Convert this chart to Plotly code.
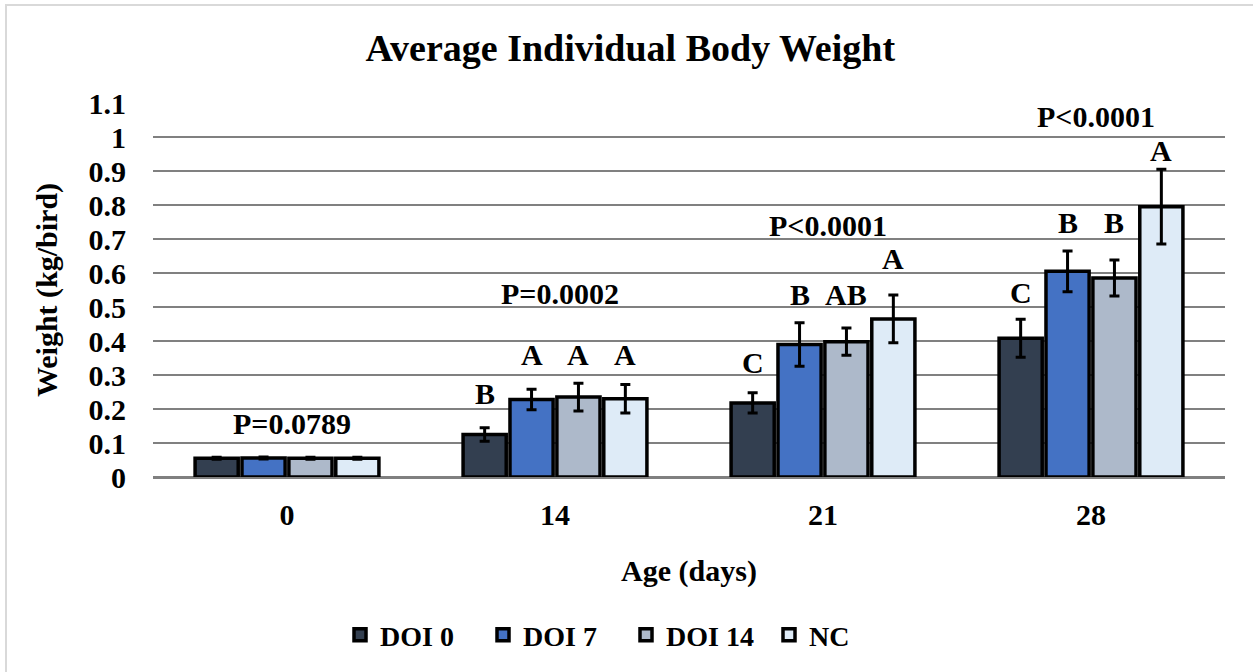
import plotly.graph_objects as go

ages = ["0", "14", "21", "28"]
series_names = ["DOI 0", "DOI 7", "DOI 14", "NC"]
colors = ["#333F50", "#4472C4", "#ADB9CA", "#DEEBF7"]

doi0 = [0.055, 0.125, 0.218, 0.408]
doi7 = [0.056, 0.228, 0.390, 0.605]
doi14 = [0.055, 0.235, 0.398, 0.585]
nc = [0.055, 0.230, 0.465, 0.795]

doi0_err = [0.003, 0.020, 0.030, 0.056]
doi7_err = [0.003, 0.030, 0.064, 0.060]
doi14_err = [0.003, 0.041, 0.040, 0.053]
nc_err = [0.003, 0.042, 0.070, 0.110]

# significance letters per age (one per series) and their label heights
letters = [
    ["", "", "", ""],
    ["B", "A", "A", "A"],
    ["C", "B", "AB", "A"],
    ["C", "B", "B", "A"],
]
letter_y = [
    [0, 0, 0, 0],
    [0.247, 0.359, 0.359, 0.359],
    [0.338, 0.538, 0.538, 0.644],
    [0.544, 0.750, 0.750, 0.959],
]
p_labels = ["P=0.0789", "P=0.0002", "P<0.0001", "P<0.0001"]
p_y = [0.156, 0.541, 0.741, 1.059]

values = [doi0, doi7, doi14, nc]
errors = [doi0_err, doi7_err, doi14_err, nc_err]

FONT = "Liberation Serif"
bargap = 0.30
nser = len(series_names)

fig = go.Figure()
for name, vals, errs, col in zip(series_names, values, errors, colors):
    fig.add_trace(go.Bar(
        name=name, x=ages, y=vals,
        marker=dict(color=col, line=dict(color="black", width=3.5)),
        error_y=dict(type="data", array=errs, visible=True,
                     color="black", thickness=3, width=5),
    ))

slot = (1 - bargap) / nser
annotations = []
for i in range(len(ages)):
    for j in range(nser):
        if letters[i][j]:
            off = -(1 - bargap) / 2 + slot * (j + 0.5)
            annotations.append(dict(
                x=i + off, y=letter_y[i][j], xref="x", yref="y",
                text=letters[i][j], showarrow=False, yanchor="middle",
                font=dict(family=FONT, size=30, color="black", weight="bold"),
            ))
    annotations.append(dict(
        x=i + 0.02, y=p_y[i], xref="x", yref="y", text=p_labels[i],
        showarrow=False, yanchor="middle",
        font=dict(family=FONT, size=30, color="black", weight="bold"),
    ))

fig.update_layout(
    width=1253, height=672,
    margin=dict(l=153, r=28, t=103, b=195),
    paper_bgcolor="white", plot_bgcolor="white",
    barmode="group", bargap=bargap, bargroupgap=0.08,
    title=dict(text="Average Individual Body Weight", x=0.503, xanchor="center",
               xref="container", y=1 - 48 / 672, yref="container", yanchor="middle",
               font=dict(family=FONT, size=38, color="black", weight="bold")),
    font=dict(family=FONT, color="black"),
    legend=dict(orientation="h", x=(340 - 153) / 1072, xanchor="left",
                y=-0.4225, yanchor="middle",
                entrywidth=98, entrywidthmode="pixels",
                font=dict(family=FONT, size=28, color="black", weight="bold"),
                itemwidth=30, traceorder="normal"),
    annotations=annotations,
    shapes=[dict(type="rect", xref="paper", yref="paper",
                 x0=(6 - 153) / 1072, x1=(1262 - 153) / 1072,
                 y0=(477 - 685) / 374, y1=(477 - 5) / 374,
                 line=dict(color="#D9D9D9", width=2), fillcolor="rgba(0,0,0,0)",
                 layer="below")],
)
fig.update_xaxes(
    type="category", showline=True, linecolor="#808080", linewidth=2,
    tickfont=dict(family=FONT, size=30, color="black", weight="bold"),
    ticks="", ticklabelstandoff=10,
    title=dict(text="Age (days)", standoff=30,
               font=dict(family=FONT, size=30, color="black", weight="bold")),
)
fig.update_yaxes(
    range=[0, 1.1], dtick=0.1, showgrid=True, gridcolor="#808080", gridwidth=1.5,
    zeroline=True, zerolinecolor="#808080", zerolinewidth=2,
    ticks="", ticklabelstandoff=26,
    tickfont=dict(family=FONT, size=30, color="black", weight="bold"),
    title=dict(text="Weight (kg/bird)", standoff=22,
               font=dict(family=FONT, size=30, color="black", weight="bold")),
)

fig.write_html("out.html", config={"displayModeBar": False},
               post_script="document.body.style.margin='0px';")
